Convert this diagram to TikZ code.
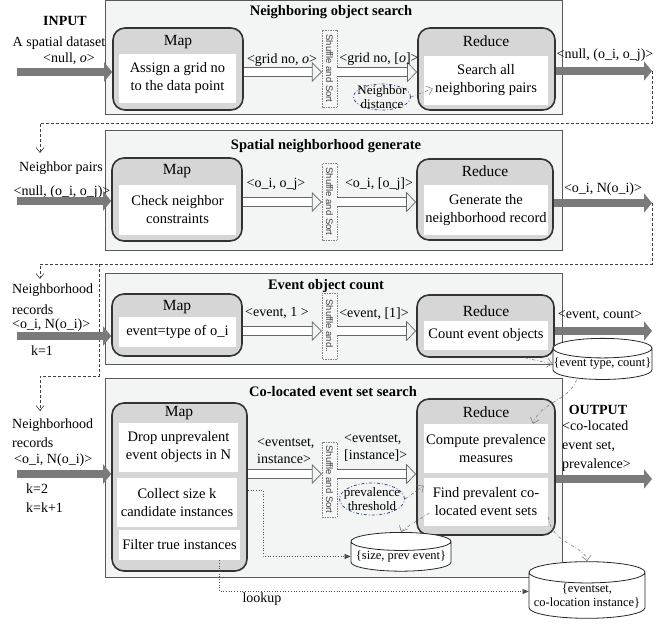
\documentclass[tikz,border=0pt]{standalone}
\usepackage{fontspec}
\setmainfont{Liberation Serif}
\setsansfont{Liberation Sans}
\usetikzlibrary{arrows.meta,shapes.geometric}

\definecolor{panelbg}{HTML}{F3F4F4}
\definecolor{boxbg}{HTML}{D6D6D6}
\definecolor{fatgray}{HTML}{7A7A7A}
\definecolor{thrblue}{HTML}{2F4F8F}

\tikzset{
  panel/.style={draw=black!65, fill=panelbg, line width=0.9pt},
  title/.style={font=\fontsize{14.5}{17}\selectfont\bfseries},
  mrbox/.style={draw=black!80, fill=boxbg, line width=1.6pt, rounded corners=12pt},
  head/.style={font=\fontsize{15.5}{18}\selectfont},
  inbox/.style={fill=white, inner sep=0pt, align=center, font=\fontsize{14.5}{18}\selectfont},
  shufbox/.style={draw=gray, dash pattern=on 1.5pt off 1pt, fill=black!3, inner sep=0pt, rotate=-90, minimum height=15pt, font=\fontsize{9.5}{10}\sffamily, text=black!75},
  lbl/.style={font=\fontsize{14}{17}\selectfont, inner sep=0pt},
  fatarrow/.style={draw=fatgray, line width=8pt, -{Triangle[length=8pt,width=19pt]}},
  hollow/.style={draw=black!60, line width=0.7pt, double=white, double distance=8pt, -{Triangle[open,length=10pt,width=20pt]}},
  flow/.style={draw=black!75, line width=0.6pt, dash pattern=on 3pt off 2pt},
  ddarrow/.style={draw=black!50, line width=0.6pt, dash dot, -{Straight Barb[length=5pt,width=9pt]}},
  dotarrow/.style={draw=black!70, line width=0.7pt, dotted, -{Triangle[length=6pt,width=5pt]}},
  thresh/.style={ellipse, draw=thrblue, line width=0.8pt, dash dot, inner sep=0pt},
  small/.style={font=\fontsize{13}{14}\selectfont, align=center, inner sep=0pt},
  db/.style={cylinder, shape border rotate=90, draw=black!85, fill=white, line width=0.8pt, aspect=0.2, inner sep=0pt, font=\fontsize{12.5}{14}\selectfont, align=center}
}

\begin{document}
\begin{tikzpicture}[x=1pt,y=-1pt]
\useasboundingbox (0,0) rectangle (668,623);

% panels
\draw[panel] (105,0.5) rectangle (562,114);
\draw[panel] (105,130) rectangle (562,250);
\draw[panel] (105,273) rectangle (562,364);
\draw[panel] (105,378) rectangle (562,577);
\node[title] (t1) at (331,12) {Neighboring object search};
\node[title] (t2) at (326,146) {Spatial neighborhood generate};
\node[title] (t3) at (326,286) {Event object count};
\node[title] (t4) at (333,392) {Co-located event set search};

\coordinate (r1) at (0,72);
\coordinate (r2) at (0,202);
\coordinate (r3) at (0,331);
\coordinate (r4) at (0,474);

% stage 1
\node[lbl, font=\fontsize{14}{17}\selectfont\bfseries] (inp) at (65,21) {INPUT};
\node[lbl] (in1a) at (59,43) {A spatial dataset};
\node[lbl] (in1b) at (69,59) {<null, \textit{o}>};
\coordinate (in1) at (17,72);
\node[mrbox, minimum width=130pt, minimum height=82pt] (map1) at (178,69) {};
\node[head] (map1h) at (178,42) {Map};
\node[inbox, minimum width=117pt, minimum height=49pt] (map1in) at (177.5,78.5) {Assign a grid no\\to the data point};
\node[shufbox, minimum width=77pt] (shuf1) at (329.5,68.5) {Shuffle and Sort};
\node[mrbox, minimum width=137pt, minimum height=82pt] (red1) at (486.5,69) {};
\node[head] (red1h) at (486,41) {Reduce};
\node[inbox, minimum width=124pt, minimum height=49pt] (red1in) at (486,80.5) {Search all\\neighboring pairs};
\node[thresh, minimum width=57pt, minimum height=26pt] (ndist) at (382,97) {};
\node[small] at (ndist) {Neighbor\\distance};
\draw[fatarrow] (in1) -- (map1.west |- in1);
\draw[hollow] (map1.east |- r1) -- (shuf1.south |- r1);
\draw[hollow] (shuf1.north |- r1) -- (red1.west |- r1);
\node[lbl] at (282,60) {<grid no, \textit{o}>};
\node[lbl] at (379,59) {<grid no, [\textit{o}]>};
\coordinate (o1) at (652,71);
\draw[fatarrow] (red1.east |- o1) -- (o1);
\node[lbl] at (605,55) {<null, (o\_i, o\_j)>};
\draw[ddarrow] (ndist.east) -- ([xshift=9pt,yshift=-8pt]red1in.west);

% stage 2
\coordinate (c1) at (0,123);
\coordinate (np) at (40,153);
\draw[flow, -{Straight Barb[length=5pt,width=8pt]}] (o1) -- (o1 |- c1) -- (np |- c1) -- (np);
\node[lbl] at (61,168) {Neighbor pairs};
\node[lbl] at (62,192) {<null, (o\_i, o\_j)>};
\coordinate (in2) at (17,201);
\node[mrbox, minimum width=130pt, minimum height=83pt] (map2) at (177,199.5) {};
\node[head] (map2h) at (177,171) {Map};
\node[inbox, minimum width=117pt, minimum height=50pt] (map2in) at (177.5,210) {Check neighbor\\constraints};
\node[shufbox, minimum width=77pt] (shuf2) at (329.5,201.5) {Shuffle and Sort};
\node[mrbox, minimum width=136pt, minimum height=81pt] (red2) at (485,199.5) {};
\node[head] (red2h) at (485,171) {Reduce};
\node[inbox, minimum width=124pt, minimum height=50pt] (red2in) at (486,210) {Generate the\\neighborhood record};
\draw[fatarrow] (in2) -- (map2.west |- in2);
\draw[hollow] (map2.east |- r2) -- (shuf2.south |- r2);
\draw[hollow] (shuf2.north |- r2) -- (red2.west |- r2);
\node[lbl] at (276,184) {<o\_i,  o\_j>};
\node[lbl] at (379,184) {<o\_i, [o\_j]>};
\coordinate (o2) at (652,203);
\draw[fatarrow] (red2.east |- o2) -- (o2);
\node[lbl] at (603,189) {<o\_i, N(o\_i)>};

% stage 3
\coordinate (c2) at (99,264);
\coordinate (c3) at (99,376);
\coordinate (nr1) at (40,279);
\coordinate (nr2) at (40,411);
\draw[flow, -{Straight Barb[length=5pt,width=8pt]}] (o2) -- (o2 |- c2) -- (nr1 |- c2) -- (nr1);
\draw[flow, -{Straight Barb[length=5pt,width=8pt]}] (c2) -- (c3) -- (nr2 |- c3) -- (nr2);
\node[lbl, anchor=west] at (12,290) {Neighborhood};
\node[lbl, anchor=west] at (12,310) {records};
\node[lbl, anchor=west] at (12,325) {<o\_i, N(o\_i)>};
\node[lbl] at (42,351) {k=1};
\coordinate (in3) at (17,336);
\node[mrbox, minimum width=130pt, minimum height=62pt] (map3) at (177,325) {};
\node[head] (map3h) at (177,307) {Map};
\node[inbox, minimum width=117pt, minimum height=30pt] (map3in) at (177.5,332) {event=type of o\_i};
\node[shufbox, minimum width=66pt] (shuf3) at (329.5,326) {Shuffle and..};
\node[mrbox, minimum width=137pt, minimum height=62pt] (red3) at (485.5,326) {};
\node[head] (red3h) at (486,311) {Reduce};
\node[inbox, minimum width=124pt, minimum height=29pt] (red3in) at (486,335.5) {Count event objects};
\draw[fatarrow] (in3) -- (map3.west |- in3);
\draw[hollow] (map3.east |- r3) -- (shuf3.south |- r3);
\draw[hollow] (shuf3.north |- r3) -- (red3.west |- r3);
\node[lbl] at (277,313) {<event, 1 >};
\node[lbl] at (374,314) {<event, [1]>};
\coordinate (o3) at (652,331);
\draw[fatarrow] (red3.east |- o3) -- (o3);
\node[lbl] at (600,316) {<event, count>};
\node[db, minimum width=99pt, minimum height=27pt] (cyl1) at (602.5,364) {\{event type, count\}};
\draw[ddarrow] ([xshift=-30pt]red3.south east) -- (cyl1.west);

% stage 4
\node[lbl, anchor=west] at (12,425) {Neighborhood};
\node[lbl, anchor=west] at (12,443) {records};
\node[lbl, anchor=west] at (14,460) {<o\_i, N(o\_i)>};
\node[lbl, anchor=west] at (26,489) {k=2};
\node[lbl, anchor=west] at (26,508) {k=k+1};
\coordinate (in4) at (17,474);
\node[mrbox, minimum width=135pt, minimum height=168pt] (map4) at (179.5,487) {};
\node[head] (map4h) at (179,413) {Map};
\node[inbox, minimum width=119pt, minimum height=49pt] (map4a) at (178.5,447.5) {Drop unprevalent\\event objects in N};
\node[inbox, minimum width=120pt, minimum height=49pt] (map4b) at (177,502.5) {Collect size k\\candidate instances};
\node[inbox, minimum width=121pt, minimum height=30pt] (map4c) at (179.5,545) {Filter true instances};
\node[shufbox, minimum width=75pt] (shuf4) at (329.5,479.5) {Shuffle and Sort};
\node[mrbox, minimum width=138pt, minimum height=136pt] (red4) at (486,467) {};
\node[head] (red4h) at (486,412) {Reduce};
\node[inbox, minimum width=124pt, minimum height=49pt] (red4a) at (486,448.5) {Compute prevalence\\measures};
\node[inbox, minimum width=124pt, minimum height=48pt] (red4b) at (486,502) {Find prevalent co-\\located event sets};
\node[thresh, minimum width=65pt, minimum height=32pt] (thr) at (372,499) {};
\node[small] at (thr) {prevalence\\threshold};
\draw[fatarrow] (in4) -- (map4.west |- in4);
\draw[hollow] (map4.east |- r4) -- (shuf4.south |- r4);
\draw[hollow] (shuf4.north |- r4) -- (red4.west |- r4);
\node[lbl, anchor=west, align=left] at (257,451) {<eventset,\\instance>};
\node[lbl, anchor=west, align=left] at (344,447.5) {<eventset,\\{[instance]>}};
\draw[ddarrow] (thr.east) -- ([yshift=-8pt]red4b.north west);
\node[lbl, font=\fontsize{14}{17}\selectfont\bfseries] (outp) at (598,410) {OUTPUT};
\node[lbl, anchor=west, align=left, font=\fontsize{14}{19}\selectfont] at (562,446) {<co-located\\event set,\\prevalence>};
\coordinate (o4) at (652,479);
\draw[fatarrow] (red4.east |- o4) -- (o4);
\draw[ddarrow] ([xshift=-26pt]cyl1.south) .. controls (568,402) and (540,402) .. ([xshift=47pt]red4a.north);

% result stores
\node[db, minimum width=100pt, minimum height=27pt] (cyl2) at (401,556.5) {\{size, prev event\}};
\node[db, minimum width=116pt, minimum height=45pt] (cyl3) at (587,595.5) {\{eventset,\\co-location instance\}};
\coordinate (lk1) at (263,490);
\draw[dotarrow] (map4.east |- lk1) -- (lk1) |- (cyl2.west);
\draw[dotarrow] ([xshift=40pt]map4c.south) |- ([yshift=4pt]cyl3.west);
\node[lbl] at (262,599) {lookup};
\draw[ddarrow] ([xshift=13pt,yshift=-46pt]red4.west) .. controls (415,522) and (402,530) .. (cyl2.north);
\draw[ddarrow] ([yshift=-15pt]red4b.east) .. controls (552,545) and (585,545) .. (cyl3.north);

\end{tikzpicture}
\end{document}
